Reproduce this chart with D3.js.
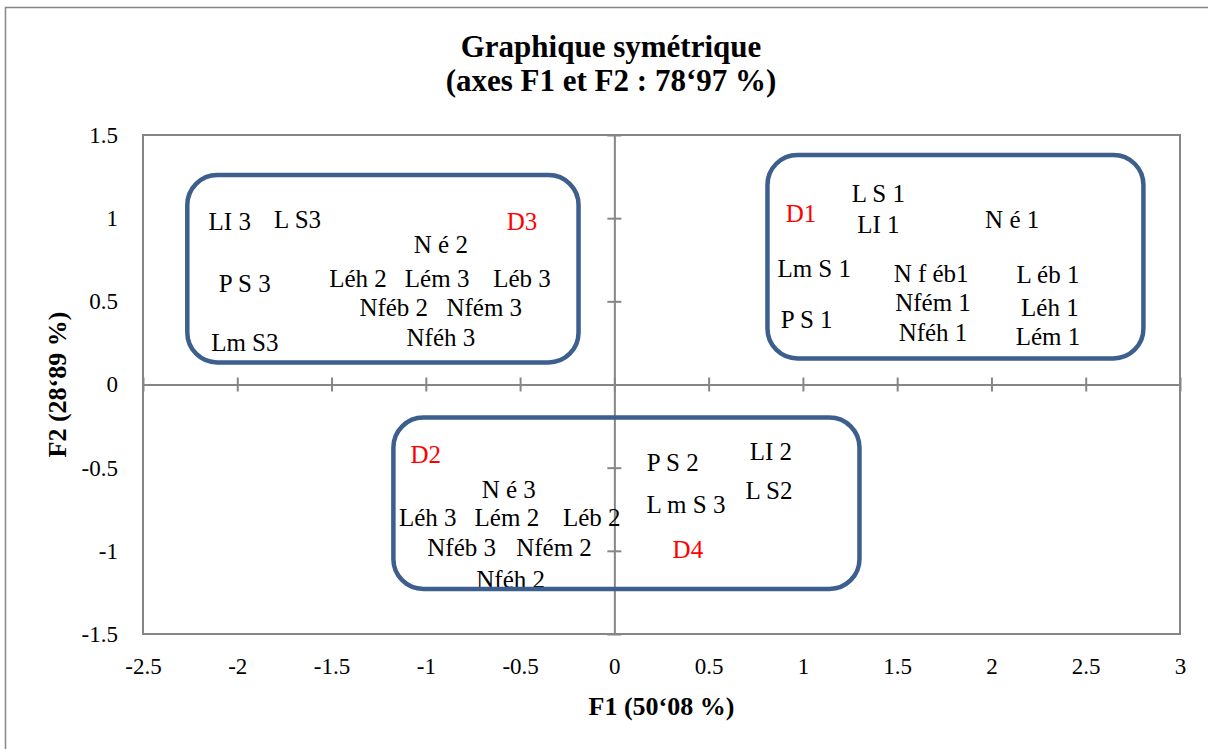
<!DOCTYPE html>
<html lang="fr">
<head>
  <meta charset="utf-8"/>
  <title>Graphique symétrique</title>
  <script src="https://d3js.org/d3.v7.min.js"></script>
  <style>
    body { margin: 0; background: #fff; }
    svg text { font-family: "Liberation Serif", "Times New Roman", serif; }
  </style>
</head>
<body>
<svg id="chart" width="1208" height="749"></svg>
<script>
  // tick values and their labels, as printed on the chart
  const xTicks = [-2.5, -2, -1.5, -1, -0.5, 0, 0.5, 1, 1.5, 2, 2.5, 3];
  const xTickLabels = ["-2.5", "-2", "-1.5", "-1", "-0.5", "0", "0.5", "1", "1.5", "2", "2.5", "3"];
  const yTicks = [-1.5, -1, -0.5, 0, 0.5, 1, 1.5];
  const yTickLabels = ["-1.5", "-1", "-0.5", "0", "0.5", "1", "1.5"];

  // point labels with their F1 / F2 coordinates
  const names = [
    "LI 3", "L S3", "D3", "N é 2", "P S 3", "Léh 2", "Lém 3", "Léb 3", "Nféb 2", "Nfém 3", "Nféh 3", "Lm S3",
    "D1", "L S 1", "LI 1", "N é 1", "Lm S 1", "N f éb1", "L éb 1", "Nfém 1", "Léh 1", "P S 1", "Nféh 1", "Lém 1",
    "D2", "P S 2", "LI 2", "N é 3", "L S2", "L m S 3", "Léh 3", "Lém 2", "Léb 2", "Nféb 3", "Nfém 2", "D4", "Nféh 2"
  ];
  const f1 = [
    -2.04, -1.68, -0.49, -0.92, -1.96, -1.36, -0.94, -0.49, -1.17, -0.69, -0.92, -1.96,
    0.99, 1.40, 1.40, 2.11, 1.06, 1.68, 2.30, 1.69, 2.31, 1.02, 1.69, 2.30,
    -1.00, 0.31, 0.83, -0.56, 0.82, 0.38, -0.99, -0.57, -0.12, -0.81, -0.32, 0.39, -0.55
  ];
  const f2 = [
    0.98, 0.99, 0.98, 0.84, 0.61, 0.64, 0.64, 0.64, 0.46, 0.46, 0.28, 0.25,
    1.03, 1.15, 0.96, 0.99, 0.70, 0.67, 0.66, 0.49, 0.46, 0.39, 0.31, 0.29,
    -0.42, -0.47, -0.40, -0.63, -0.64, -0.72, -0.80, -0.80, -0.80, -0.98, -0.98, -0.99, -1.17
  ];
  // the D groups are the supplementary points, shown in red
  const redNames = ["D1", "D2", "D3", "D4"];

  // rounded frames around the clusters, in data units
  const frameX0 = [-2.265, 0.812, -1.172];
  const frameX1 = [-0.19, 2.806, 1.30];
  const frameY0 = [0.133, 0.157, -1.229];
  const frameY1 = [1.259, 1.38, -0.199];

  const svg = d3.select("#chart");
  const margin = { top: 135, right: 28, bottom: 115, left: 143 };
  const width = 1208, height = 749;
  const innerWidth = width - margin.left - margin.right;
  const innerHeight = height - margin.top - margin.bottom;
  const grey = "#868686";

  // outer chart frame (only its top and left edges are inside the picture)
  svg.append("path")
    .attr("d", `M5.5,${height} V7.5 H${width}`)
    .attr("fill", "none").attr("stroke", grey).attr("stroke-width", 1.5);

  const g = svg.append("g").attr("transform", `translate(${margin.left},${margin.top})`);
  const x = d3.scaleLinear().domain([-2.5, 3]).range([0, innerWidth]);
  const y = d3.scaleLinear().domain([-1.5, 1.5]).range([innerHeight, 0]);

  // plot area border
  g.append("rect")
    .attr("width", innerWidth).attr("height", innerHeight)
    .attr("fill", "none").attr("stroke", grey).attr("stroke-width", 2);

  // zero axes with cross ticks
  const xAxis = g.append("g")
    .attr("transform", `translate(0,${y(0)})`)
    .call(d3.axisBottom(x).tickValues(xTicks).tickSizeInner(7).tickSizeOuter(0).tickFormat(""));
  xAxis.selectAll(".tick line").attr("y1", -7);

  const yAxis = g.append("g")
    .attr("transform", `translate(${x(0)},0)`)
    .call(d3.axisLeft(y).tickValues(yTicks).tickSizeInner(7).tickSizeOuter(0).tickFormat(""));
  yAxis.selectAll(".tick line").attr("x1", 7);

  [xAxis, yAxis].forEach(a => {
    a.select(".domain").attr("stroke", grey).attr("stroke-width", 2);
    a.selectAll(".tick line").attr("stroke", grey).attr("stroke-width", 2);
  });

  // tick labels on the low side of the plot
  const xLab = g.append("g")
    .attr("transform", `translate(0,${innerHeight})`)
    .call(d3.axisBottom(x).tickValues(xTicks).tickSize(0).tickPadding(24)
      .tickFormat((d, i) => xTickLabels[i]));
  const yLab = g.append("g")
    .call(d3.axisLeft(y).tickValues(yTicks).tickSize(0).tickPadding(25)
      .tickFormat((d, i) => yTickLabels[i]));
  [xLab, yLab].forEach(a => {
    a.select(".domain").remove();
    a.selectAll("text")
      .attr("fill", "#000")
      .style("font-family", "'Liberation Serif', serif")
      .style("font-size", "23px");
  });

  // point labels
  const points = names.map((n, i) => ({ name: n, f1: f1[i], f2: f2[i] }));
  g.selectAll("text.pt")
    .data(points)
    .enter()
    .append("text")
    .attr("class", "pt")
    .attr("x", d => x(d.f1))
    .attr("y", d => y(d.f2))
    .attr("dy", "0.34em")
    .attr("text-anchor", "middle")
    .attr("fill", d => redNames.includes(d.name) ? "#ff0000" : "#000")
    .style("font-size", "25px")
    .text(d => d.name);

  // cluster frames
  g.selectAll("rect.frame")
    .data(frameX0.map((v, i) => ({ x0: v, x1: frameX1[i], y0: frameY0[i], y1: frameY1[i] })))
    .enter()
    .append("rect")
    .attr("class", "frame")
    .attr("x", d => x(d.x0))
    .attr("y", d => y(d.y1))
    .attr("width", d => x(d.x1) - x(d.x0))
    .attr("height", d => y(d.y0) - y(d.y1))
    .attr("rx", 30).attr("ry", 30)
    .attr("fill", "none")
    .attr("stroke", "#3d5f8e")
    .attr("stroke-width", 4.5);

  // titles
  const title = svg.append("text")
    .attr("x", 611).attr("y", 57)
    .attr("text-anchor", "middle")
    .style("font-size", "31px").style("font-weight", "bold");
  title.append("tspan").attr("x", 611).text("Graphique symétrique");
  title.append("tspan").attr("x", 611).attr("dy", 34).text("(axes F1 et F2 : 78‘97 %)");

  svg.append("text")
    .attr("x", margin.left + innerWidth / 2).attr("y", 715)
    .attr("text-anchor", "middle")
    .style("font-size", "26px").style("font-weight", "bold")
    .text("F1 (50‘08 %)");

  svg.append("text")
    .attr("transform", `translate(66,${margin.top + innerHeight / 2}) rotate(-90)`)
    .attr("text-anchor", "middle")
    .style("font-size", "26px").style("font-weight", "bold")
    .text("F2 (28‘89 %)");
</script>
</body>
</html>
